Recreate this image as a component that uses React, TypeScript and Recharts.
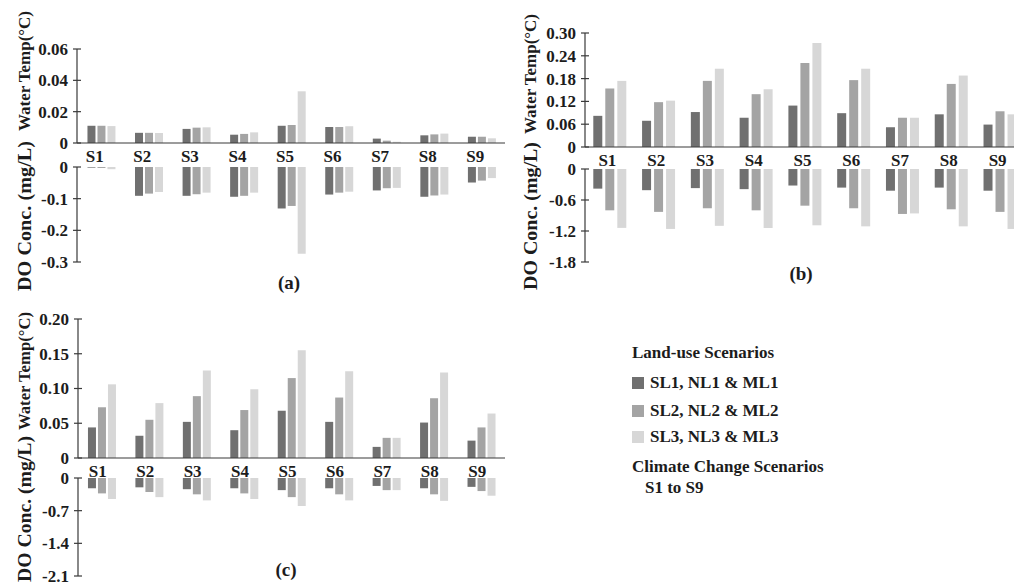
import { BarChart, Bar, XAxis, YAxis } from "recharts";

const scenarios = ["S1", "S2", "S3", "S4", "S5", "S6", "S7", "S8", "S9"];

// (a) water temp / DO change
const aTemp1 = [0.011, 0.0065, 0.009, 0.0053, 0.011, 0.0102, 0.0028, 0.0049, 0.004];
const aTemp2 = [0.011, 0.0065, 0.0098, 0.0058, 0.0115, 0.0102, 0.0015, 0.0055, 0.004];
const aTemp3 = [0.0108, 0.0064, 0.01, 0.0068, 0.033, 0.0107, 0.0008, 0.006, 0.003];
const aDo1 = [-0.002, -0.091, -0.091, -0.094, -0.131, -0.087, -0.074, -0.094, -0.049];
const aDo2 = [-0.003, -0.084, -0.086, -0.091, -0.123, -0.081, -0.067, -0.09, -0.043];
const aDo3 = [-0.007, -0.079, -0.081, -0.081, -0.274, -0.078, -0.066, -0.087, -0.035];

// (b)
const bTemp1 = [0.082, 0.069, 0.092, 0.077, 0.109, 0.089, 0.052, 0.086, 0.059];
const bTemp2 = [0.154, 0.118, 0.174, 0.139, 0.221, 0.176, 0.077, 0.166, 0.094];
const bTemp3 = [0.174, 0.122, 0.206, 0.152, 0.274, 0.206, 0.077, 0.188, 0.086];
const bDo1 = [-0.38, -0.41, -0.37, -0.39, -0.32, -0.36, -0.42, -0.36, -0.42];
const bDo2 = [-0.8, -0.83, -0.76, -0.8, -0.71, -0.76, -0.87, -0.78, -0.83];
const bDo3 = [-1.14, -1.16, -1.1, -1.14, -1.09, -1.11, -0.86, -1.11, -1.16];

// (c)
const cTemp1 = [0.044, 0.032, 0.052, 0.04, 0.068, 0.052, 0.016, 0.051, 0.025];
const cTemp2 = [0.073, 0.055, 0.089, 0.069, 0.115, 0.087, 0.029, 0.086, 0.044];
const cTemp3 = [0.106, 0.079, 0.126, 0.099, 0.155, 0.125, 0.029, 0.123, 0.064];
const cDo1 = [-0.22, -0.2, -0.24, -0.22, -0.26, -0.22, -0.17, -0.22, -0.19];
const cDo2 = [-0.33, -0.3, -0.35, -0.33, -0.41, -0.35, -0.26, -0.35, -0.28];
const cDo3 = [-0.45, -0.41, -0.48, -0.45, -0.6, -0.48, -0.26, -0.49, -0.38];

const tempTicksA = [0, 0.02, 0.04, 0.06];
const doTicksA = [-0.3, -0.2, -0.1, 0];
const tempTicksB = [0, 0.06, 0.12, 0.18, 0.24, 0.3];
const doTicksB = [-1.8, -1.2, -0.6, 0];
const tempTicksC = [0, 0.05, 0.1, 0.15, 0.2];
const doTicksC = [-2.1, -1.4, -0.7, 0];

const landUse = ["SL1, NL1 & ML1", "SL2, NL2 & ML2", "SL3, NL3 & ML3"];
const colors = ["#707070", "#a4a4a4", "#d7d7d7"];

const FONT = "'Liberation Serif', 'Times New Roman', serif";
const INK = "#1c1c1c";
const AXIS = "#3a3a3a";

type Row = { name: string; v1: number; v2: number; v3: number };

function rows(s1: number[], s2: number[], s3: number[]): Row[] {
  return scenarios.map((name, i) => ({ name, v1: s1[i], v2: s2[i], v3: s3[i] }));
}

function fmt(v: number, digits: number) {
  return v === 0 ? "0" : v.toFixed(digits);
}

interface HalfProps {
  data: Row[];
  ticks: number[];
  digits: number;
  upper: boolean;
  left: number;
  top: number;
  width: number;
  height: number;
  mt: number;
  mb: number;
  title: string;
  titleX: number;
  titleY: number;
  titleLen: number;
  titleSize: number;
  gap: string;
  barGap: number;
  labelDx: number;
}

function Half(p: HalfProps) {
  const tx = p.titleX - p.left;
  const ty = p.titleY - p.top;
  const domain = [Math.min(...p.ticks), Math.max(...p.ticks)];
  return (
    <div style={{ position: "absolute", left: p.left, top: p.top }}>
      <BarChart
        width={p.width}
        height={p.height}
        data={p.data}
        margin={{ top: p.mt, right: 0, bottom: p.mb, left: 0 }}
        barCategoryGap={p.gap}
        barGap={p.barGap}
      >
        {p.upper ? (
          <XAxis
            dataKey="name"
            height={30}
            interval={0}
            tickLine={false}
            axisLine={{ stroke: AXIS, strokeWidth: 1.2 }}
            tick={(t: any) => (
              <text
                x={t.x + p.labelDx}
                y={t.y - 1}
                dy="0.71em"
                textAnchor="middle"
                fontSize={17}
                fontWeight="bold"
                fontFamily={FONT}
                fill={INK}
              >
                {t.payload.value}
              </text>
            )}
          />
        ) : (
          <XAxis
            dataKey="name"
            orientation="top"
            height={0}
            tick={false}
            axisLine={{ stroke: AXIS, strokeWidth: 1.2 }}
          />
        )}
        <YAxis
          type="number"
          domain={domain}
          ticks={p.ticks}
          interval={0}
          width={76}
          tickSize={4}
          tickMargin={5}
          tickLine={false}
          axisLine={{ stroke: AXIS, strokeWidth: 1.2 }}
          tick={(t: any) => (
            <g>
              <line x1={t.x + 5} x2={t.x + 13} y1={t.y} y2={t.y} stroke={AXIS} strokeWidth={1.2} />
              <text
                x={t.x}
                y={t.y}
                dy="0.35em"
                textAnchor="end"
                fontSize={17}
                fontWeight="bold"
                fontFamily={FONT}
                fill={INK}
              >
                {fmt(t.payload.value, p.digits)}
              </text>
            </g>
          )}
          label={{
            content: () => (
              <text
                x={tx}
                y={ty}
                transform={`rotate(-90 ${tx} ${ty})`}
                textAnchor="middle"
                dominantBaseline="central"
                fontSize={p.titleSize}
                fontWeight="bold"
                fontFamily={FONT}
                fill={INK}
                textLength={p.titleLen}
                lengthAdjust="spacingAndGlyphs"
              >
                {p.title}
              </text>
            ),
          }}
        />
        <Bar dataKey="v1" fill={colors[0]} isAnimationActive={false} />
        <Bar dataKey="v2" fill={colors[1]} isAnimationActive={false} />
        <Bar dataKey="v3" fill={colors[2]} isAnimationActive={false} />
      </BarChart>
    </div>
  );
}

const textStyle = {
  position: "absolute" as const,
  fontFamily: FONT,
  fontWeight: "bold" as const,
  color: INK,
  whiteSpace: "nowrap" as const,
};

export default function App() {
  const temp = "Water Temp(°C)";
  const dox = "DO Conc. (mg/L)";
  return (
    <div
      style={{
        position: "fixed",
        left: 0,
        top: 0,
        width: 1014,
        height: 587,
        overflow: "hidden",
        background: "#fff",
        fontFamily: FONT,
      }}
    >
      {/* (a) */}
      <Half data={rows(aTemp1, aTemp2, aTemp3)} ticks={tempTicksA} digits={2} upper
        left={1} top={0} width={504} height={173} mt={49} mb={0}
        title={temp} titleX={24} titleY={71} titleLen={120} titleSize={17}
        gap="22%" barGap={2} labelDx={-6} />
      <Half data={rows(aDo1, aDo2, aDo3)} ticks={doTicksA} digits={1} upper={false}
        left={1} top={135} width={504} height={162} mt={32} mb={35}
        title={dox} titleX={24} titleY={216} titleLen={150} titleSize={19}
        gap="22%" barGap={2} labelDx={0} />

      {/* (b) */}
      <Half data={rows(bTemp1, bTemp2, bTemp3)} ticks={tempTicksB} digits={2} upper
        left={509} top={0} width={515} height={177} mt={33} mb={0}
        title={temp} titleX={530} titleY={74} titleLen={120} titleSize={17}
        gap="17%" barGap={3} labelDx={-2} />
      <Half data={rows(bDo1, bDo2, bDo3)} ticks={doTicksB} digits={1} upper={false}
        left={509} top={135} width={515} height={162} mt={34} mb={35}
        title={dox} titleX={530} titleY={216} titleLen={148} titleSize={19}
        gap="17%" barGap={3} labelDx={0} />

      {/* (c) */}
      <Half data={rows(cTemp1, cTemp2, cTemp3)} ticks={tempTicksC} digits={2} upper
        left={2} top={300} width={503} height={188} mt={19} mb={0}
        title={temp} titleX={24} titleY={371} titleLen={118} titleSize={17}
        gap="21%" barGap={2} labelDx={-4} />
      <Half data={rows(cDo1, cDo2, cDo3)} ticks={doTicksC} digits={1} upper={false}
        left={2} top={430} width={503} height={157} mt={48} mb={11}
        title={dox} titleX={24} titleY={509} titleLen={146} titleSize={19}
        gap="21%" barGap={2} labelDx={0} />

      {/* panel captions */}
      <div style={{ ...textStyle, left: 269, top: 272, width: 40, textAlign: "center", fontSize: 19 }}>(a)</div>
      <div style={{ ...textStyle, left: 781, top: 263, width: 40, textAlign: "center", fontSize: 19 }}>(b)</div>
      <div style={{ ...textStyle, left: 266, top: 559, width: 40, textAlign: "center", fontSize: 19 }}>(c)</div>

      {/* legend */}
      <div style={{ ...textStyle, left: 632, top: 343, fontSize: 17, lineHeight: "20px" }}>Land-use Scenarios</div>
      {landUse.map((name, i) => (
        <div key={name} style={{ ...textStyle, left: 632, top: [373, 401, 427][i], fontSize: 17, lineHeight: "20px" }}>
          <span
            style={{
              display: "inline-block",
              width: 12,
              height: 12,
              background: colors[i],
              marginRight: 6,
              verticalAlign: "-1px",
            }}
          />
          {name}
        </div>
      ))}
      <div style={{ ...textStyle, left: 632, top: 457, fontSize: 17, lineHeight: "20px" }}>Climate Change Scenarios</div>
      <div style={{ ...textStyle, left: 645, top: 478, fontSize: 17, lineHeight: "20px" }}>S1 to S9</div>
    </div>
  );
}
